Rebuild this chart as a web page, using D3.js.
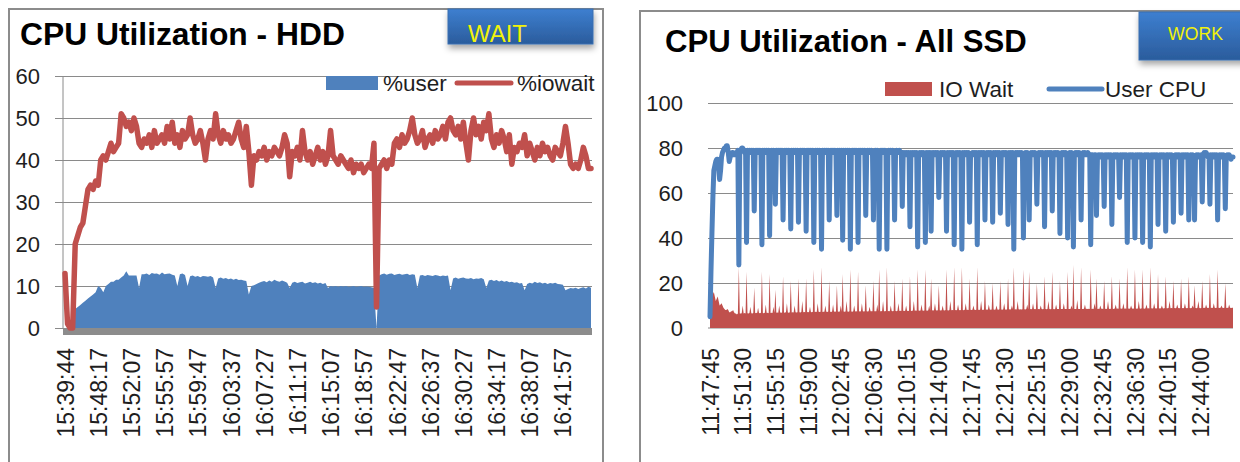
<!DOCTYPE html>
<html>
<head>
<meta charset="utf-8">
<script src="https://cdn.jsdelivr.net/npm/d3@7"></script>
<style>
    body { margin: 0; background: #fff; }
    svg text { font-family: "Liberation Sans", Arial, sans-serif; fill: #1e1e1e; }
</style>
</head>
<body>
<div id="chart"></div>
<script>
// ---- left panel: HDD ----
const hddLabels = ["15:39:44", "15:48:17", "15:52:07", "15:55:57", "15:59:47", "16:03:37", "16:07:27", "16:11:17",
    "16:15:07", "16:18:57", "16:22:47", "16:26:37", "16:30:27", "16:34:17", "16:38:07", "16:41:57"];
const hddLabelEvery = 13;
const hddTicks = [0, 10, 20, 30, 40, 50, 60];

const hddUser = [
    0, 0, 0, 0, 4.5, 5, 5.5, 6, 6.5, 7, 7.5, 8, 8.5,
    10, 9.5, 8.5, 10, 10.5, 11, 11, 11.5, 11.5, 12, 12.5, 13.5, 12.5,
    12.5, 12.5, 12.5, 9.5, 12.8, 12.8, 13, 12.6, 13.1, 12.9, 13, 12.7, 13.2,
    12.8, 12.9, 13, 12.7, 12.5, 10, 12.8, 13, 12.6, 10, 12.3, 12.5, 12.2,
    12.4, 12.1, 12.4, 12.3, 12.2, 12.4, 12, 9.5, 11.8, 12, 11.7, 11.9, 11.6,
    11.8, 11.5, 11.7, 11.4, 11.5, 11.3, 11.2, 8, 10, 10.2, 10.5, 10.8, 11,
    11.2, 10.9, 11.3, 11, 11.5, 11.2, 11, 11.3, 11.1, 10.8, 9.5, 10.8, 11,
    10.7, 10.9, 11, 10.6, 10.8, 11, 10.7, 10.9, 10.6, 10.8, 10.5, 10.7, 9.5,
    10, 9.9, 10, 9.8, 10, 9.9, 10, 9.8, 9.9, 10, 9.8, 9.9, 10,
    9.8, 9.9, 9.8, 9.7, 9.6, 0, 12.5, 12.8, 13, 12.7, 12.9, 13, 12.6,
    12.8, 12.9, 12.7, 12.8, 12.9, 12.6, 12.8, 12.7, 9.5, 12.5, 12.6, 12.4, 12.6,
    12.5, 12.4, 12.6, 12.5, 12.3, 12.5, 12.4, 12.5, 9, 11.8, 12, 11.7, 11.9,
    12, 11.8, 11.7, 11.9, 11.6, 11.8, 11.7, 11.9, 11.6, 9.5, 11.3, 11.5, 11.2,
    11.4, 11.1, 11.3, 11, 11.2, 10.9, 11, 10.8, 10.9, 10.6, 10.7, 9, 10.5,
    10.8, 10.6, 11, 10.7, 10.9, 10.6, 10.8, 10.5, 10.7, 10.6, 10.8, 10.5, 10.4,
    10.3, 9, 9.3, 9.5, 9.4, 9.6, 9.3, 9.5, 9.7, 9.4, 9.8, 9.6
];

const hddIowait = [
    13, 1, 0, 0, 20, 22, 24, 25, 29, 33, 34, 33, 35,
    34, 40, 41, 40, 42, 44, 42, 43, 44, 51, 50, 48, 49,
    47, 50, 48, 44, 43, 45, 44, 46, 43, 47, 44, 45, 46,
    44, 48, 45, 49, 44, 46, 43, 47, 45, 46, 50, 46, 44,
    45, 47, 44, 40, 45, 47, 45, 51, 46, 44, 47, 45, 46,
    44, 45, 47, 49, 45, 43, 48, 42, 34, 41, 40, 42, 41,
    43, 40, 42, 41, 43, 42, 41, 43, 46, 44, 36, 42, 41,
    43, 40, 47, 42, 40, 42, 39, 41, 43, 40, 42, 39, 41,
    47, 41, 40, 39, 41, 40, 39, 38, 40, 37, 39, 38, 39,
    37, 38, 39, 38, 44, 5, 38, 39, 40, 38, 40, 39, 44,
    45, 43, 46, 44, 45, 47, 50, 46, 44, 45, 47, 43, 45,
    46, 44, 47, 45, 46, 48, 45, 49, 50, 47, 46, 48, 45,
    49, 44, 40, 47, 50, 46, 48, 45, 49, 47, 51, 45, 43,
    46, 44, 47, 45, 42, 46, 39, 43, 42, 44, 43, 46, 41,
    44, 42, 40, 43, 41, 44, 42, 43, 41, 40, 43, 42, 41,
    44, 48, 44, 39, 38, 39, 38, 40, 43, 41, 38, 38
];

// ---- right panel: all SSD ----
const ssdLabels = ["11:47:45", "11:51:30", "11:55:15", "11:59:00", "12:02:45", "12:06:30", "12:10:15", "12:14:00",
    "12:17:45", "12:21:30", "12:25:15", "12:29:00", "12:32:45", "12:36:30", "12:40:15", "12:44:00"];
const ssdLabelEvery = 34;
const ssdTicks = [0, 20, 40, 60, 80, 100];

const ssdUser = [
    5, 25, 42, 58, 70, 72, 74, 75, 75, 72, 66, 70, 76, 78, 79, 80, 80, 81, 81, 78, 74, 76, 77, 78, 78, 77, 77, 78, 78, 79, 28, 79, 79, 80,
    80, 79, 78, 79, 38, 79, 78, 79, 78, 79, 78, 79, 52, 78, 79, 78, 79, 78, 79, 78, 37, 79, 78, 79, 78, 79, 78, 79, 41, 78, 79, 78, 79, 78,
    55, 79, 78, 79, 78, 79, 78, 79, 48, 78, 79, 78, 79, 78, 79, 78, 44, 79, 78, 79, 78, 79, 78, 79, 47, 78, 79, 78, 79, 78, 79, 78, 43, 79,
    78, 79, 78, 79, 78, 79, 38, 78, 79, 78, 79, 78, 79, 78, 35, 79, 78, 79, 78, 79, 78, 79, 48, 78, 79, 78, 79, 78, 79, 78, 50, 79, 78, 79,
    78, 79, 39, 79, 78, 79, 78, 79, 78, 79, 35, 78, 79, 78, 79, 78, 79, 78, 38, 79, 78, 79, 78, 79, 78, 79, 50, 78, 79, 78, 79, 78, 79, 78,
    48, 78, 79, 78, 79, 78, 35, 78, 79, 78, 79, 78, 79, 78, 35, 78, 79, 78, 79, 78, 79, 78, 48, 78, 79, 78, 78, 79, 78, 78, 54, 78, 77, 78,
    77, 78, 77, 78, 45, 78, 77, 78, 77, 78, 77, 78, 36, 77, 78, 77, 78, 77, 78, 77, 38, 78, 77, 78, 77, 78, 43, 78, 77, 78, 77, 78, 77, 78,
    58, 77, 78, 77, 78, 77, 78, 77, 43, 78, 77, 78, 77, 78, 77, 78, 37, 77, 78, 77, 78, 77, 78, 77, 35, 78, 77, 78, 77, 78, 77, 78, 47, 77,
    77, 78, 77, 78, 77, 78, 37, 78, 77, 78, 77, 78, 77, 78, 48, 77, 78, 77, 78, 77, 78, 77, 47, 78, 77, 78, 77, 78, 77, 78, 51, 77, 78, 77,
    78, 77, 78, 77, 46, 78, 77, 78, 77, 78, 35, 77, 78, 77, 78, 77, 78, 77, 78, 77, 40, 77, 78, 77, 78, 77, 48, 77, 78, 77, 78, 77, 78, 77,
    55, 77, 78, 77, 78, 77, 78, 77, 45, 78, 77, 78, 77, 78, 77, 78, 52, 77, 78, 77, 78, 77, 78, 77, 42, 77, 78, 77, 78, 77, 78, 77, 40, 77,
    78, 77, 78, 77, 36, 77, 78, 77, 78, 77, 78, 77, 48, 77, 78, 77, 78, 77, 77, 78, 77, 77, 37, 77, 77, 76, 77, 77, 50, 76, 77, 76, 77, 76,
    77, 76, 54, 77, 76, 77, 76, 77, 76, 77, 46, 76, 77, 76, 77, 76, 77, 76, 58, 77, 76, 77, 76, 77, 76, 77, 38, 76, 77, 76, 77, 76, 77, 76,
    40, 77, 76, 77, 76, 77, 76, 77, 38, 76, 77, 76, 77, 76, 77, 76, 36, 77, 76, 77, 76, 77, 76, 77, 46, 76, 77, 76, 77, 76, 77, 76, 43, 77,
    77, 76, 77, 76, 77, 76, 47, 76, 77, 76, 77, 76, 77, 76, 51, 77, 76, 77, 76, 77, 76, 77, 48, 76, 77, 76, 77, 76, 48, 76, 77, 76, 77, 76,
    76, 77, 56, 77, 78, 77, 78, 77, 76, 77, 55, 77, 76, 77, 76, 77, 76, 77, 48, 76, 77, 76, 77, 76, 77, 76, 53, 76, 77, 76, 77, 76, 75, 76,
    76
];

const ssdIowait = [
    17, 15, 14, 15, 16, 14, 12, 13, 14, 12, 10, 10.5, 11, 10, 9, 8.5, 8, 8, 8.5, 8, 7, 7, 7.5, 7.5, 8, 7, 6.5, 6.5, 6, 6.5, 27, 6.5, 6.5, 6.6,
    10, 6.5, 6.7, 6.5, 25, 6.6, 6.5, 6.7, 9.5, 6.6, 6.5, 6.7, 18, 6.6, 6.8, 6.6, 9, 6.7, 6.6, 6.8, 25, 6.7, 6.6, 6.8, 10.5, 6.7, 6.8, 6.6, 24, 6.7, 6.8, 6.7, 9.5, 6.8,
    17, 6.8, 6.9, 6.8, 10, 6.9, 6.8, 6.9, 23, 6.8, 6.9, 7, 11, 6.9, 6.8, 7, 21, 6.9, 7, 6.9, 10, 7, 6.9, 7, 22, 7, 6.9, 7.1, 12, 7, 7.1, 7, 22, 7.1,
    7, 7.1, 9.5, 7.1, 7, 7.2, 26, 7.1, 7.2, 7.1, 11, 7.2, 7.1, 7.2, 27, 7.1, 7.2, 7.2, 10, 7.2, 7.1, 7.3, 21, 7.2, 7.1, 7.3, 10.5, 7.2, 7.3, 7.2, 19, 7.3, 7.2, 7.3,
    10, 7.2, 24, 7.3, 7.2, 7.3, 12, 7.3, 7.2, 7.4, 26, 7.3, 7.2, 7.4, 10, 7.3, 7.4, 7.3, 25, 7.4, 7.3, 7.4, 11, 7.4, 7.3, 7.5, 19, 7.4, 7.3, 7.5, 9.5, 7.4, 7.5, 7.4,
    21, 7.4, 7.5, 7.4, 10.5, 7.5, 26, 7.5, 7.4, 7.6, 12, 7.5, 7.4, 7.6, 27, 7.5, 7.6, 7.5, 10, 7.6, 7.5, 7.6, 21, 7.6, 7.5, 7.7, 11, 7.6, 7.7, 7.6, 22, 7.7, 7.6, 7.7,
    10, 7.7, 7.6, 7.7, 23, 7.7, 7.6, 7.8, 12, 7.7, 7.8, 7.7, 26, 7.8, 7.7, 7.8, 10.5, 7.8, 7.7, 7.8, 26, 7.8, 7.7, 7.9, 10, 7.8, 22, 7.9, 7.8, 7.9, 11, 7.9, 7.8, 7.9,
    19, 7.9, 7.8, 7.9, 10, 7.9, 7.8, 8, 26, 7.9, 7.8, 8, 12, 7.9, 8, 7.9, 27, 8, 7.9, 8, 10.5, 8, 7.9, 8, 27, 8, 7.9, 8.1, 11, 8, 8.1, 8, 22, 8.1,
    8, 8.1, 10, 8.1, 8, 8.1, 27, 8.1, 8, 8.2, 12, 8.1, 8, 8.2, 21, 8.1, 8.2, 8.1, 10.5, 8.2, 8.1, 8.2, 20, 8.2, 8.1, 8.2, 10, 8.2, 8.1, 8.3, 21, 8.2, 8.1, 8.3,
    11, 8.2, 8.1, 8.3, 22, 8.2, 8.3, 8.2, 10, 8.3, 27, 8.2, 8.3, 8.2, 12, 8.3, 8.2, 8.3, 8.2, 8.3, 26, 8.3, 8.2, 8.4, 10.5, 8.3, 25, 8.4, 8.3, 8.4, 11, 8.3, 8.4, 8.3,
    20, 8.3, 8.4, 8.3, 10, 8.4, 8.3, 8.4, 23, 8.4, 8.3, 8.4, 12, 8.4, 8.3, 8.5, 25, 8.4, 8.3, 8.5, 10.5, 8.4, 8.5, 8.4, 21, 8.5, 8.4, 8.5, 11, 8.4, 8.5, 8.4, 25, 8.5,
    8.4, 8.5, 10, 8.4, 28, 8.5, 8.4, 8.5, 12.5, 8.5, 8.4, 8.5, 27, 8.5, 8.4, 8.6, 10.5, 8.5, 8.6, 8.5, 8.6, 8.5, 26, 8.5, 8.6, 8.5, 11, 8.6, 22, 8.5, 8.6, 8.5, 10, 8.6,
    8.6, 8.5, 21, 8.6, 8.5, 8.6, 12, 8.6, 8.5, 8.6, 23, 8.6, 8.5, 8.7, 10.5, 8.6, 8.7, 8.6, 22, 8.7, 8.6, 8.7, 11, 8.6, 8.7, 8.6, 27, 8.7, 8.6, 8.7, 10, 8.7, 8.6, 8.7,
    26, 8.7, 8.6, 8.7, 12, 8.7, 8.6, 8.8, 26, 8.7, 8.6, 8.8, 10.5, 8.7, 8.8, 8.7, 27, 8.8, 8.7, 8.8, 11, 8.8, 8.7, 8.8, 24, 8.8, 8.7, 8.8, 10, 8.8, 8.7, 8.9, 23, 8.8,
    8.8, 8.9, 12, 8.8, 8.9, 8.8, 21, 8.9, 8.8, 8.9, 10.5, 8.9, 8.8, 8.9, 22, 8.9, 8.8, 8.9, 11, 8.9, 8.8, 8.9, 23, 8.9, 8.8, 8.9, 10, 8.9, 19, 8.9, 8.8, 9, 12, 8.9,
    8.8, 8.9, 21, 8.9, 9, 8.9, 10.5, 9, 8.9, 9, 24, 8.9, 9, 8.9, 11, 9, 8.9, 9, 26, 9, 8.9, 9, 10, 9, 8.9, 9, 20, 8.9, 9, 8.9, 10.5, 9, 8.9, 9,
    9
];

const BLUE = "#4f81bd";
const RED = "#c0504d";
const GRID = "#8a8a8a";

const svg = d3.select("#chart")
    .append("svg")
    .attr("width", 1240)
    .attr("height", 462);

const defs = svg.append("defs");
const grad = defs.append("linearGradient")
    .attr("id", "btnGrad")
    .attr("x1", 0).attr("y1", 0).attr("x2", 0).attr("y2", 1);
grad.append("stop").attr("offset", "0%").attr("stop-color", "#3d7fd0");
grad.append("stop").attr("offset", "100%").attr("stop-color", "#2b5c9c");
defs.append("filter")
    .attr("id", "btnShadow")
    .attr("x", "-20%").attr("y", "-30%").attr("width", "150%").attr("height", "190%")
    .append("feDropShadow")
    .attr("dx", 1).attr("dy", 4).attr("stdDeviation", 3)
    .attr("flood-color", "#000").attr("flood-opacity", 0.35);

// scale a text's font size so it spans the given width
function fitText(sel, width) {
    const w = sel.node().getComputedTextLength();
    const fs = parseFloat(sel.attr("font-size"));
    sel.attr("font-size", fs * width / w);
}

function drawPanel(o) {
    const g = svg.append("g");

    // frame
    g.append("rect")
        .attr("x", o.frame[0]).attr("y", o.frame[1])
        .attr("width", o.frame[2]).attr("height", o.frame[3])
        .attr("fill", "#fff")
        .attr("stroke", "#8c8c8c")
        .attr("stroke-width", 2);

    // title
    const title = g.append("text")
        .attr("x", o.titleX).attr("y", o.titleY)
        .attr("font-family", "Lato, 'Open Sans', sans-serif")
        .attr("font-weight", 700)
        .attr("font-size", 28)
        .style("fill", "#000")
        .text(o.title);
    fitText(title, o.titleW);

    // scales
    const n = o.series[0].values.length;
    const x = d3.scaleLinear().domain([0, n - 1]).range([o.xStart, o.xEnd]);
    const y = d3.scaleLinear().domain([0, d3.max(o.ticks)]).range([o.y0, o.yTop]);

    // grid lines
    const grid = g.append("g")
        .attr("transform", `translate(${o.axisX},0)`)
        .call(d3.axisLeft(y).tickValues(o.ticks.slice(1)).tickSize(-(o.plotRight - o.axisX)).tickFormat(""));
    grid.select(".domain").remove();
    grid.selectAll("line").attr("stroke", GRID);

    // y axis labels (+ small outside ticks on the HDD chart)
    const yAxis = g.append("g")
        .attr("transform", `translate(${o.axisX},0)`)
        .call(d3.axisLeft(y).tickValues(o.ticks).tickSize(o.tickOut).tickPadding(o.tickPad));
    yAxis.select(".domain").remove();
    yAxis.selectAll("line").attr("stroke", GRID);
    yAxis.selectAll("text").attr("font-size", 22).style("fill", "#1e1e1e");

    if (o.vAxis) {
        g.append("line")
            .attr("x1", o.axisX).attr("x2", o.axisX)
            .attr("y1", y(d3.max(o.ticks))).attr("y2", o.y0)
            .attr("stroke", GRID);
    }

    // category axis
    if (o.floor) {
        g.append("rect")
            .attr("x", o.axisX).attr("y", o.y0)
            .attr("width", o.plotRight - o.axisX).attr("height", 7)
            .attr("fill", "#8c8c8c");
    } else {
        g.append("line")
            .attr("x1", o.axisX).attr("x2", o.plotRight)
            .attr("y1", o.y0).attr("y2", o.y0)
            .attr("stroke", GRID);
    }

    // series
    o.series.forEach(s => {
        if (s.type === "area") {
            g.append("path")
                .datum(s.values)
                .attr("fill", s.color)
                .attr("d", d3.area().x((d, i) => x(i)).y0(y(0)).y1(d => y(d)));
        } else {
            g.append("path")
                .datum(s.values)
                .attr("fill", "none")
                .attr("stroke", s.color)
                .attr("stroke-width", s.width)
                .attr("stroke-linejoin", "round")
                .attr("stroke-linecap", "round")
                .attr("d", d3.line().x((d, i) => x(i)).y(d => y(d)));
        }
    });

    // x axis labels, rotated
    const xAxis = g.append("g")
        .attr("transform", `translate(0,${o.y0})`)
        .call(d3.axisBottom(x)
            .tickValues(o.labels.map((d, i) => i * o.labelEvery))
            .tickFormat((d, i) => o.labels[i])
            .tickSize(0));
    xAxis.select(".domain").remove();
    xAxis.selectAll("text")
        .attr("transform", "rotate(-90)")
        .attr("text-anchor", "end")
        .attr("x", -20)
        .attr("y", 0)
        .attr("dy", "0.35em")
        .attr("font-size", 23)
        .style("fill", "#1e1e1e");

    // legend
    o.series.forEach(s => {
        const l = s.legend;
        if (s.type === "area") {
            g.append("rect")
                .attr("x", l.x).attr("y", l.y - 7)
                .attr("width", l.w).attr("height", 14)
                .attr("fill", s.color);
        } else {
            g.append("line")
                .attr("x1", l.x + 2).attr("x2", l.x + l.w - 2)
                .attr("y1", l.y).attr("y2", l.y)
                .attr("stroke", s.color)
                .attr("stroke-width", 5)
                .attr("stroke-linecap", "round");
        }
        g.append("text")
            .attr("x", l.tx).attr("y", l.y + 8)
            .attr("font-size", 22.5)
            .text(s.name);
    });

    // button
    const b = o.button;
    g.append("rect")
        .attr("x", b.x).attr("y", b.y)
        .attr("width", b.w).attr("height", b.h)
        .attr("fill", "url(#btnGrad)")
        .attr("stroke", "#3a6fb0")
        .attr("filter", "url(#btnShadow)");
    const bt = g.append("text")
        .attr("x", b.tx).attr("y", b.ty)
        .attr("font-size", 20)
        .style("fill", "#f2f20a")
        .text(b.text);
    fitText(bt, b.tw);
}

drawPanel({
    frame: [9, 9, 594, 470],
    title: "CPU Utilization - HDD", titleX: 20, titleY: 45, titleW: 325,
    xStart: 65, xEnd: 591, axisX: 63, plotRight: 592,
    y0: 328, yTop: 76, ticks: hddTicks,
    tickOut: 8, tickPad: 15, vAxis: true, floor: true,
    labels: hddLabels, labelEvery: hddLabelEvery,
    series: [
        { name: "%user", type: "area", color: BLUE, values: hddUser,
          legend: { x: 326, y: 83, w: 52, tx: 383 } },
        { name: "%iowait", type: "line", color: RED, width: 5.5, values: hddIowait,
          legend: { x: 455, y: 83, w: 58, tx: 517 } }
    ],
    button: { x: 448, y: 9, w: 145, h: 35, text: "WAIT", tx: 468, ty: 42, tw: 59 }
});

drawPanel({
    frame: [640, 11, 640, 470],
    title: "CPU Utilization - All SSD", titleX: 665, titleY: 52, titleW: 362,
    xStart: 710, xEnd: 1233, axisX: 708, plotRight: 1233,
    y0: 328, yTop: 103, ticks: ssdTicks,
    tickOut: 0, tickPad: 25, vAxis: false, floor: false,
    labels: ssdLabels, labelEvery: ssdLabelEvery,
    series: [
        { name: "IO Wait", type: "area", color: RED, values: ssdIowait,
          legend: { x: 885, y: 89, w: 47, tx: 939 } },
        { name: "User CPU", type: "line", color: BLUE, width: 5, values: ssdUser,
          legend: { x: 1047, y: 89, w: 57, tx: 1105 } }
    ],
    button: { x: 1139, y: 12, w: 110, h: 48, text: "WORK", tx: 1168, ty: 40, tw: 55 }
});
</script>
</body>
</html>
